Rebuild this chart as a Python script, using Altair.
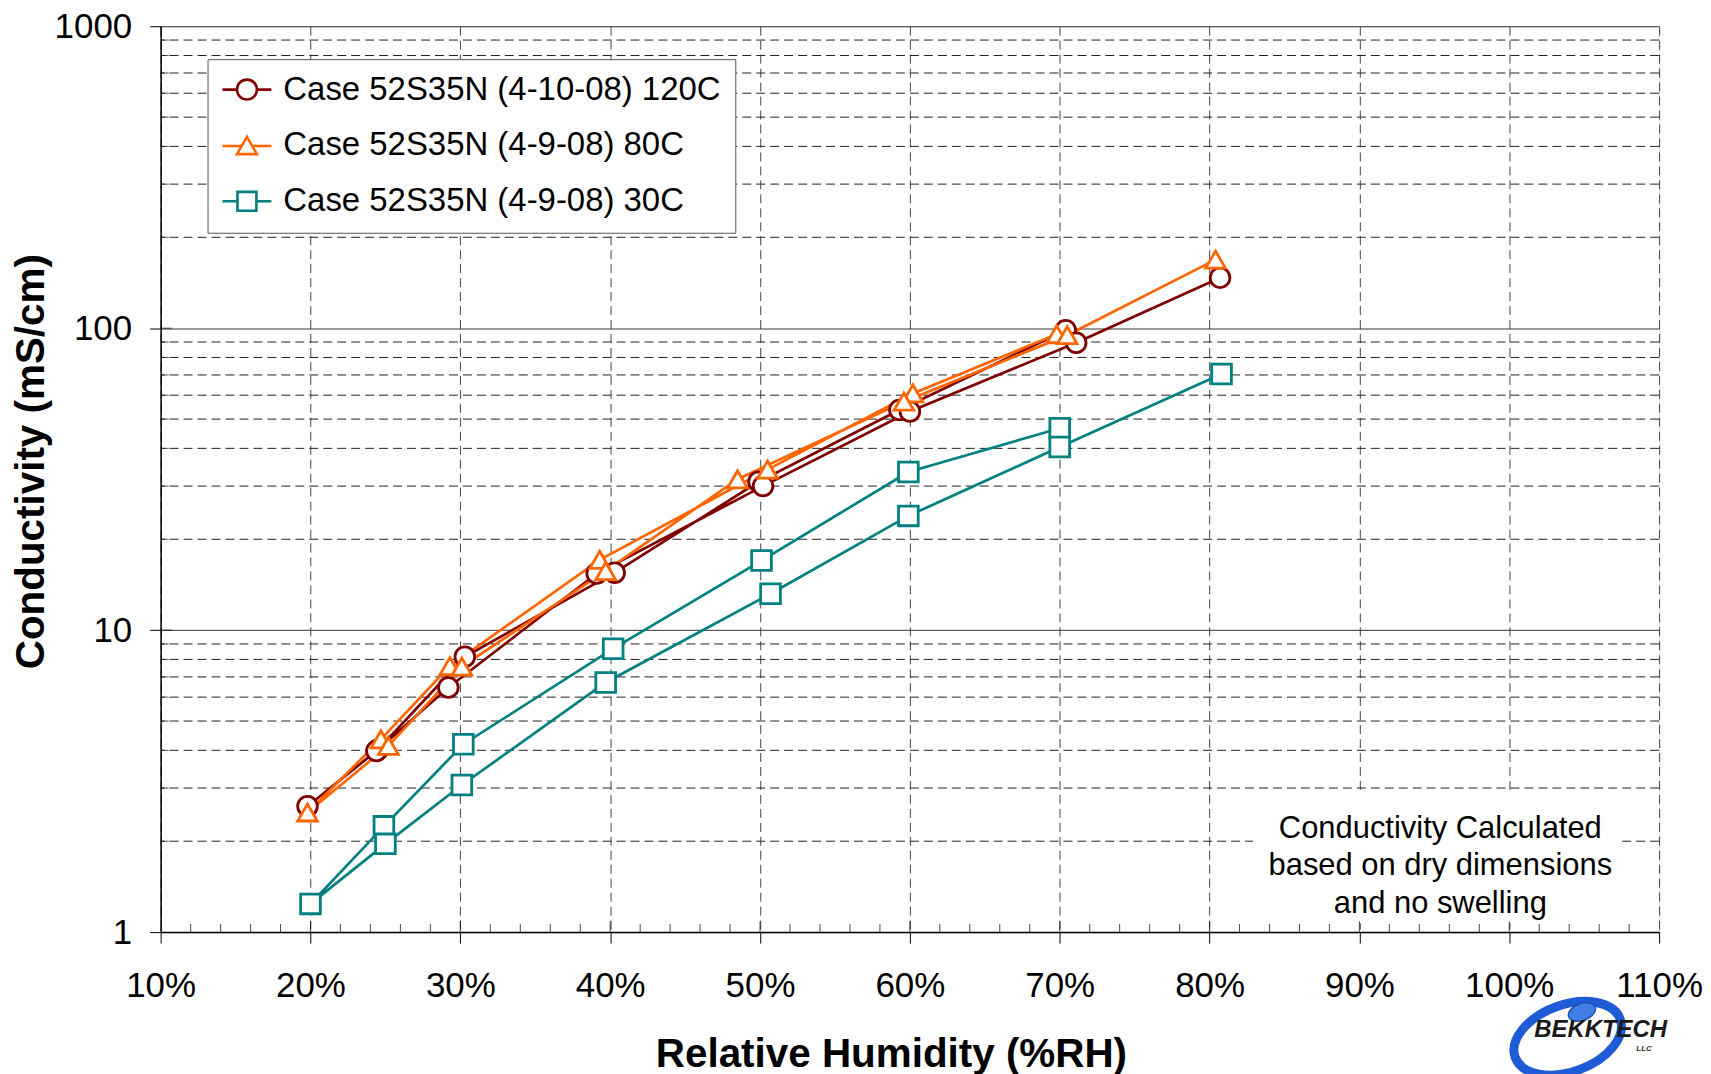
import altair as alt
import pandas as pd

FONT = "Liberation Sans"

# ---- data ----
series_names = [
    "Case 52S35N (4-10-08) 120C",
    "Case 52S35N (4-9-08) 80C",
    "Case 52S35N (4-9-08) 30C",
]
series_colors = ["#800000", "#FF6600", "#008080"]
marker_shapes = ["circle", "triangle-up", "square"]
legend_shapes = [
    "M-2.45,0L-1,0M1,0L2.45,0M-1,0A1,1,0,1,0,1,0A1,1,0,1,0,-1,0Z",
    "M-2.45,0.05L-0.5,0.05M0.5,0.05L2.45,0.05M0,-0.87L1,0.87L-1,0.87Z",
    "M-2.45,0L-0.95,0M0.95,0L2.45,0M-0.95,-0.95L0.95,-0.95L0.95,0.95L-0.95,0.95Z",
]

# measurement order: down from 70 %RH to 20 %RH, then up to 80 %RH
rh_120 = [70.4, 59.3, 49.9, 40.3, 30.3, 24.5, 19.8, 24.4, 29.2, 39.1, 50.2, 60.0, 71.1, 80.7]
cond_120 = [98.5, 53.6, 31.0, 15.5, 8.16, 4.02, 2.61, 3.98, 6.46, 15.4, 30.0, 53.0, 89.5, 147.0]
rh_80 = [69.8, 60.2, 50.5, 39.3, 29.3, 24.7, 19.8, 25.2, 30.1, 39.7, 48.5, 59.6, 70.5, 80.4]
cond_80 = [95.5, 60.8, 34.0, 17.1, 7.6, 4.35, 2.49, 4.14, 7.57, 15.7, 31.6, 57.1, 94.8, 168.7]
rh_30 = [70.0, 59.9, 50.1, 40.2, 30.2, 24.9, 20.0, 25.0, 30.1, 39.7, 50.7, 59.9, 70.0, 80.8]
cond_30 = [46.6, 33.4, 17.0, 8.68, 4.19, 2.24, 1.24, 1.96, 3.07, 6.71, 13.2, 23.9, 40.4, 70.5]

x_tick_values = [10, 20, 30, 40, 50, 60, 70, 80, 90, 100, 110]
x_inner_major = [20, 30, 40, 50, 60, 70, 80, 90, 100]
x_minor_values = [12, 14, 16, 18, 22, 24, 26, 28, 32, 34, 36, 38, 42, 44, 46, 48,
                  52, 54, 56, 58, 62, 64, 66, 68, 72, 74, 76, 78, 82, 84, 86, 88,
                  92, 94, 96, 98, 102, 104, 106, 108]
y_major_values = [1, 10, 100, 1000]
y_inner_major = [10, 100]
y_minor_values = [2, 3, 4, 5, 6, 7, 8, 9, 20, 30, 40, 50, 60, 70, 80, 90,
                  200, 300, 400, 500, 600, 700, 800, 900]

note_lines = ["Conductivity Calculated", "based on dry dimensions", "and no swelling"]
note_pos = {"x": 95.4, "y": 2.20}
note_box = {"x": 82.9, "x2": 107.5, "y": 2.85, "y2": 1.07}
logo_text = "BEKKTECH"
logo_sub = "LLC"
logo_text_pos = {"x": 106.1, "y": 0.474}
logo_sub_pos = {"x": 109.0, "y": 0.41}
logo_ring_pos = {"x": 103.9, "y": 0.445}
logo_dot_pos = {"x": 104.85, "y": 0.544}
ellipse_path = "M-1,0A1,0.6,0,1,1,1,0A1,0.6,0,1,1,-1,0Z"

rows = []
for name, xs, ys in zip(series_names, [rh_120, rh_80, rh_30], [cond_120, cond_80, cond_30]):
    for i, (xv, yv) in enumerate(zip(xs, ys)):
        rows.append({"series": name, "rh": xv, "cond": yv, "step": i})
df = pd.DataFrame(rows)
one = pd.DataFrame({"a": [0]})

# ---- scales / axes ----
xscale = alt.Scale(domain=[10, 110], nice=False, zero=False)
yscale = alt.Scale(type="log", domain=[1, 1000], nice=False)

x_axis = alt.Axis(
    values=x_tick_values, labelExpr="datum.value + '%'", title="Relative Humidity (%RH)",
    grid=True, gridDash=[9, 5], gridColor="#444444", gridWidth=1,
    domainColor="black", domainWidth=1.5, tickColor="black", tickSize=11, tickWidth=1,
    labelFont=FONT, labelFontSize=35, labelColor="black", labelPadding=26,
    labelFlush=False, labelOverlap=False,
    titleFont=FONT, titleFontSize=40.5, titleFontWeight="bold", titleColor="black", titlePadding=31,
    titleX=732,
)
y_axis = alt.Axis(
    values=y_major_values, format="d", title="Conductivity (mS/cm)",
    grid=True, gridColor="#333333", gridWidth=1,
    domainColor="black", domainWidth=1.5, tickColor="black", tickSize=11, tickWidth=1,
    labelFont=FONT, labelFontSize=35, labelColor="black", labelPadding=18,
    labelFlush=False, labelOverlap=False,
    titleFont=FONT, titleFontSize=40.5, titleFontWeight="bold", titleColor="black", titlePadding=2,
    titleY=436,
)


def X(field):
    return alt.X(field, type="quantitative", scale=xscale, axis=x_axis)


def Y(field):
    return alt.Y(field, type="quantitative", scale=yscale, axis=y_axis)


color_scale = alt.Scale(domain=series_names, range=series_colors)

minor_grid = alt.Chart(pd.DataFrame({"v": y_minor_values})).mark_rule(
    color="#222222", strokeDash=[9, 5], strokeWidth=1
).encode(y=Y("v"))

note_bg = alt.Chart(one).mark_rect(color="white").encode(
    x=alt.datum(note_box["x"]), x2=alt.datum(note_box["x2"]),
    y=alt.datum(note_box["y"]), y2=alt.datum(note_box["y2"]),
)

lines = alt.Chart(df).mark_line(strokeWidth=2.7).encode(
    x=X("rh"), y=Y("cond"),
    color=alt.Color("series:N", scale=color_scale, legend=None),
    order=alt.Order("step:Q"),
)

points = alt.Chart(df).mark_point(filled=False, fill="white", size=390, strokeWidth=2.8, opacity=1).encode(
    x=X("rh"), y=Y("cond"),
    color=alt.Color("series:N", scale=color_scale, legend=None),
    shape=alt.Shape("series:N", scale=alt.Scale(domain=series_names, range=marker_shapes), legend=None),
)

x_minor_ticks = alt.Chart(pd.DataFrame({"v": x_minor_values})).mark_tick(
    orient="vertical", size=8, thickness=1, color="black", yOffset=-4
).encode(x=X("v"), y=alt.datum(1))
x_major_ticks = alt.Chart(pd.DataFrame({"v": x_inner_major})).mark_tick(
    orient="vertical", size=11, thickness=1, color="black", yOffset=-5.5
).encode(x=X("v"), y=alt.datum(1))
y_minor_ticks = alt.Chart(pd.DataFrame({"v": y_minor_values})).mark_tick(
    orient="horizontal", size=8, thickness=1, color="black", xOffset=4
).encode(y=Y("v"), x=alt.datum(10))
y_major_ticks = alt.Chart(pd.DataFrame({"v": y_inner_major})).mark_tick(
    orient="horizontal", size=11, thickness=1, color="black", xOffset=5.5
).encode(y=Y("v"), x=alt.datum(10))

note = alt.Chart(one).mark_text(
    text=note_lines, font=FONT, fontSize=31, lineHeight=37.6,
    align="center", baseline="middle", color="black",
).encode(x=alt.datum(note_pos["x"]), y=alt.datum(note_pos["y"]))

logo_ring = alt.Chart(one).mark_point(
    shape=ellipse_path, size=12544, filled=False, stroke="#1f5bd6", strokeWidth=9,
    angle=340, clip=False, opacity=1,
).encode(x=alt.datum(logo_ring_pos["x"]), y=alt.datum(logo_ring_pos["y"]))
logo_dot = alt.Chart(one).mark_point(
    shape=ellipse_path, size=800, filled=True, fill="#3f7fe6", stroke="#1f4fb0", strokeWidth=1.5,
    angle=340, clip=False, opacity=1,
).encode(x=alt.datum(logo_dot_pos["x"]), y=alt.datum(logo_dot_pos["y"]))
logo = alt.Chart(one).mark_text(
    text=logo_text, font=FONT, fontSize=24, fontStyle="italic", fontWeight="bold",
    align="center", baseline="middle", color="#1a1a1a", clip=False,
).encode(x=alt.datum(logo_text_pos["x"]), y=alt.datum(logo_text_pos["y"]))
logo_llc = alt.Chart(one).mark_text(
    text=logo_sub, font=FONT, fontSize=8, fontStyle="italic", fontWeight="bold",
    align="center", baseline="middle", color="#333333", clip=False,
).encode(x=alt.datum(logo_sub_pos["x"]), y=alt.datum(logo_sub_pos["y"]))

legend = alt.Legend(
    title=None, orient="none", legendX=47, legendY=33, direction="vertical",
    labelFont=FONT, labelFontSize=33, labelColor="black", labelLimit=0,
    symbolSize=400, symbolStrokeWidth=2.6, symbolOffset=9, labelOffset=20,
    rowPadding=22, padding=14, strokeColor="#555555", fillColor="white",
    symbolOpacity=1, symbolFillColor="white",
)

legend_layer = alt.Chart(df).transform_filter("datum.step == 0").mark_point(
    filled=False, opacity=0, size=400, strokeWidth=2.6
).encode(
    x=X("rh"), y=Y("cond"),
    color=alt.Color("series:N", scale=color_scale, legend=legend),
    shape=alt.Shape("series:N", scale=alt.Scale(domain=series_names, range=legend_shapes), legend=legend),
)

chart = alt.layer(
    minor_grid, note_bg, lines, points,
    x_minor_ticks, x_major_ticks, y_minor_ticks, y_major_ticks,
    note, logo_ring, logo_dot, logo, logo_llc, legend_layer,
).resolve_scale(color="independent", shape="independent").properties(
    width=1502, height=908,
    padding={"left": 3, "top": 0, "right": 0, "bottom": 0},
).configure_view(stroke="#888888", strokeWidth=2).configure(background="white")

chart.save("out.html", embed_options={"renderer": "svg", "actions": False})
